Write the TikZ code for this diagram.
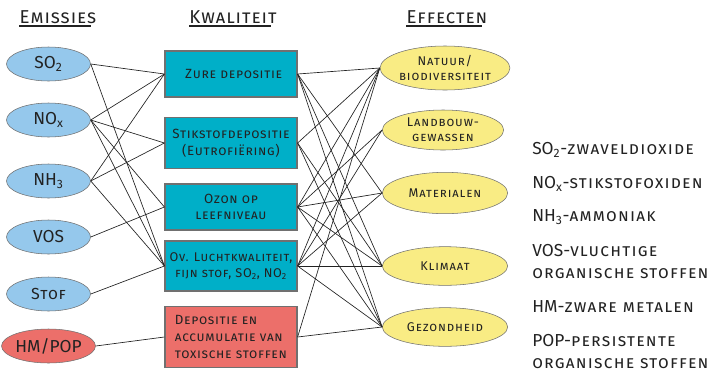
\documentclass[tikz,border=0pt]{standalone}
\usepackage{fontspec}
\setmainfont{Fira Sans}
\newfontfamily\kapfont[LetterSpace=5]{Fira Sans}
\newfontfamily\effont[LetterSpace=7]{Fira Sans}
\newfontfamily\legfont[LetterSpace=7]{Fira Sans}
\usetikzlibrary{shapes.geometric}
\definecolor{emblue}{HTML}{95C8EC}
\definecolor{kwteal}{HTML}{00AFC8}
\definecolor{toxred}{HTML}{EC6F6A}
\definecolor{efyel}{HTML}{F9EC84}
\definecolor{rim}{HTML}{707070}
\definecolor{ink}{HTML}{222222}
\tikzset{
  emis/.style={ellipse,draw=rim,fill=emblue,minimum width=63pt,minimum height=25.5pt,
    inner sep=0pt,text=ink,font=\fontsize{13}{14}\selectfont},
  kwal/.style={rectangle,draw=rim,fill=kwteal,line width=0.9pt,minimum width=99pt,
    inner sep=1pt,align=center,text=ink,font=\fontsize{10}{12.5}\selectfont\kapfont\scshape},
  effect/.style={ellipse,draw=rim,fill=efyel,minimum width=94pt,minimum height=31pt,
    inner sep=0pt,align=center,text=ink,font=\fontsize{9.5}{11}\selectfont\effont\scshape},
  kop/.style={inner sep=0pt,text=ink,font=\fontsize{14}{16}\selectfont\kapfont\scshape},
  legend/.style={anchor=west,inner sep=0pt,text=ink,font=\fontsize{13}{15}\selectfont},
  link/.style={draw=ink,line width=0.5pt}
}
\newcommand\klein[1]{{\legfont\scshape #1}}
\begin{document}
\begin{tikzpicture}[x=0.75pt,y=-0.75pt]
\useasboundingbox (0,0) rectangle (710,372);
% kolomkoppen
\node[kop,anchor=base] (hEm) at (58,23) {Emissies};
\node[kop,anchor=base] (hKw) at (233,23) {Kwaliteit};
\node[kop,anchor=base] (hEf) at (447,23) {Effecten};
\foreach \h in {hEm,hKw,hEf}
  \draw[ink,line width=1.1pt] ([yshift=-2.2pt]\h.base west) -- ([xshift=-4pt,yshift=-2.2pt]\h.base east);
% emissies
\node[emis] (so) at (48.5,64) {SO\textsubscript{2}};
\node[emis] (nox) at (48.5,120) {NO\textsubscript{x}};
\node[emis] (nh) at (48.5,181) {NH\textsubscript{3}};
\node[emis] (vos) at (48.5,237) {VOS};
\node[emis,font=\fontsize{12}{14}\selectfont\kapfont\scshape] (stof) at (48.5,294) {Stof};
\node[emis,fill=toxred] (hmpop) at (48.5,346) {HM/POP};
% kwaliteit
\node[kwal,minimum height=34.5pt] (zure) at (231,74) {\hspace*{4pt}Zure depositie};
\node[kwal,minimum height=38pt] (stik) at (231,143) {Stikstofdepositie\\(Eutrofiëring)};
\node[kwal,minimum height=34.5pt] (ozon) at (231,207) {Ozon op\\leefniveau};
\node[kwal,minimum height=37.5pt,font=\fontsize{9.5}{12.5}\selectfont\kapfont\scshape] (ovl) at (231,266)
  {Ov. Luchtkwaliteit,\\fijn stof, SO\textsubscript{2}, NO\textsubscript{2}};
\node[kwal,minimum height=45.5pt,fill=toxred,align=left] (tox) at (231,337)
  {Depositie en\\accumulatie van\\toxische stoffen};
% effecten
\node[effect,minimum height=33pt] (natuur) at (445,68) {Natuur/\\biodiversiteit};
\node[effect,minimum width=91pt,minimum height=30pt] (land) at (443,130) {Landbouw-\\gewassen};
\node[effect] (mat) at (445,193) {Materialen};
\node[effect,minimum height=29pt] (klim) at (445,266) {Klimaat};
\node[effect,minimum height=29pt] (gez) at (445,327) {Gezondheid};
% verbindingen
\foreach \a/\b in {so/zure,so/ovl,nox/zure,nox/stik,nox/ozon,nox/ovl,nh/zure,nh/stik,nh/ovl,
    vos/ozon,stof/ovl,hmpop/tox}
  \draw[link] (\a.east) -- (\b.west);
\foreach \a/\b in {zure/natuur,zure/mat,zure/klim,zure/gez,stik/natuur,stik/klim,stik/gez,
    ozon/natuur,ozon/land,ozon/mat,ozon/klim,ozon/gez,ovl/natuur,ovl/land,ovl/mat,ovl/klim,ovl/gez,
    tox/natuur,tox/gez}
  \draw[link] (\a.east) -- (\b.west);
% legenda
\node[legend] (lSO) at (532,150) {SO\textsubscript{2}-\klein{zwaveldioxide}};
\node[legend] (lNO) at (532,184) {NO\textsubscript{x}-\klein{stikstofoxiden}};
\node[legend] (lNH) at (532,217) {NH\textsubscript{3}-\klein{ammoniak}};
\node[legend] (lVOSa) at (532,251) {VOS-\klein{vluchtige}};
\node[legend] (lVOSb) at (532,274) {\klein{organische stoffen}};
\node[legend] (lHM) at (532,307) {HM-\klein{zware metalen}};
\node[legend] (lPOPa) at (532,341) {POP-\klein{persistente}};
\node[legend] (lPOPb) at (532,364) {\klein{organische stoffen}};
\end{tikzpicture}
\end{document}
